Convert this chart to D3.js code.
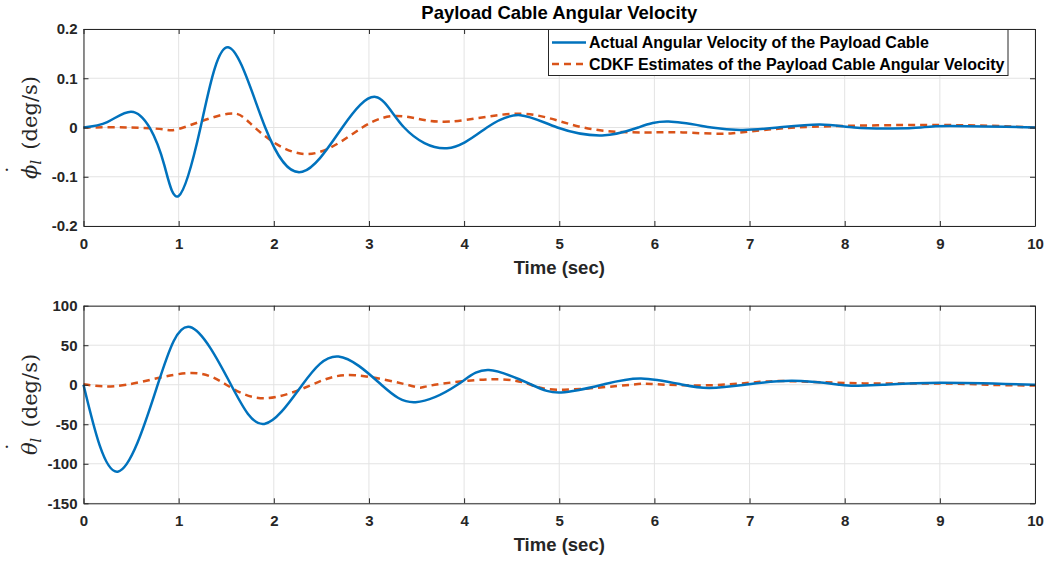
<!DOCTYPE html>
<html>
<head>
<meta charset="utf-8">
<script src="https://cdn.jsdelivr.net/npm/d3@7"></script>
<style>
  body { margin: 0; background: #fff; }
  svg { font-family: "Liberation Sans", Arial, sans-serif; }
  .tick text { font-weight: bold; font-size: 15px; fill: #262626; }
</style>
</head>
<body>
<svg id="chart" width="1050" height="561"></svg>
<script>
// time samples (sec) and values (peaks and zero crossings)
const phiTime   = [0, 0.25, 0.5, 0.7, 0.85, 1.0, 1.23, 1.52, 1.91, 2.3, 2.72, 3.07, 3.37, 3.82, 4.24, 4.59, 4.98, 5.45, 5.83, 6.15, 6.6, 6.93, 7.3, 7.74, 8.1, 8.5, 8.8, 9.1, 10];
const phiActual = [0, 0.011, 0.032, -0.002, -0.077, -0.139, 0, 0.163, 0, -0.09, 0, 0.062, 0, -0.042, 0, 0.025, 0, -0.016, 0, 0.012, 0, -0.005, 0, 0.006, 0, -0.002, 0, 0.003, 0];

const phiEstTime = [0, 0.5, 0.85, 1.05, 1.52, 1.8, 2.35, 2.93, 3.35, 3.85, 4.6, 5.25, 5.9, 6.3, 6.8, 7.5, 9.0, 10];
const phiEst     = [0, 0, -0.004, 0, 0.028, 0, -0.054, 0, 0.023, 0.012, 0.028, 0, -0.01, -0.01, -0.012, 0, 0.005, 0];

const thetaTime   = [0, 0.36, 0.78, 1.12, 1.55, 1.9, 2.3, 2.68, 3.13, 3.49, 3.93, 4.26, 4.71, 5.02, 5.45, 5.86, 6.3, 6.58, 6.95, 7.45, 7.95, 8.12, 8.4, 9.0, 10];
const thetaActual = [0, -110, 0, 73, 0, -49.6, 0, 35.7, 0, -22, 0, 18.5, 0, -9.7, 0, 8, 0, -4, 0, 5, 0, -1.3, 0, 2.5, 0];

const thetaEstTime = [0, 0.45, 1.1, 1.5, 1.9, 2.4, 2.85, 3.45, 3.65, 4.3, 4.7, 5.05, 5.75, 6.0, 6.5, 7.0, 7.4, 8.2, 9.0, 9.5, 10];
const thetaEst     = [0.5, 0, 14.7, 0, -17.2, 0, 12, -1.5, -1, 7, 0, -6.3, 0, 0.8, -0.8, 2.5, 4.6, 1.7, 1.7, 0, -1];

const xTicks = [0, 1, 2, 3, 4, 5, 6, 7, 8, 9, 10];
const phiTicks = [-0.2, -0.1, 0, 0.1, 0.2];
const thetaTicks = [-150, -100, -50, 0, 50, 100];

const legendLabels = ["Actual Angular Velocity of the Payload Cable", "CDKF Estimates of the Payload Cable Angular Velocity"];

const blue = "#0072BD", orange = "#D95319", axisCol = "#262626", gridCol = "#e3e3e3";

const svg = d3.select("#chart");
const left = 83.5, right = 1035;

function makePanel(top, bottom, yDomain, yTicks, yFmt, actualT, actualV, estT, estV, symbol) {
  const x = d3.scaleLinear().domain([0, 10]).range([left, right]);
  const y = d3.scaleLinear().domain(yDomain).range([bottom, top]);
  const g = svg.append("g");

  // grid
  g.selectAll(".gx").data(xTicks).enter().append("line")
    .attr("x1", d => x(d)).attr("x2", d => x(d))
    .attr("y1", top).attr("y2", bottom)
    .attr("stroke", gridCol).attr("stroke-width", 1);
  g.selectAll(".gy").data(yTicks).enter().append("line")
    .attr("x1", left).attr("x2", right)
    .attr("y1", d => y(d)).attr("y2", d => y(d))
    .attr("stroke", gridCol).attr("stroke-width", 1);

  // curves
  const line = (ts, vs) => d3.line()
    .x(i => x(ts[i])).y(i => y(vs[i]))
    .curve(d3.curveNatural)(d3.range(ts.length));

  g.append("path").attr("d", line(estT, estV))
    .attr("fill", "none").attr("stroke", orange).attr("stroke-width", 2.5)
    .attr("stroke-dasharray", "7,5");
  g.append("path").attr("d", line(actualT, actualV))
    .attr("fill", "none").attr("stroke", blue).attr("stroke-width", 2.5);

  // axes (ticks pointing in, box on all sides)
  const xb = g.append("g").attr("transform", `translate(0,${bottom})`)
    .call(d3.axisBottom(x).tickValues(xTicks).tickSizeInner(-5).tickSizeOuter(0).tickPadding(12).tickFormat(d => String(d)));
  const xt = g.append("g").attr("transform", `translate(0,${top})`)
    .call(d3.axisTop(x).tickValues(xTicks).tickSizeInner(-5).tickSizeOuter(0).tickFormat(""));
  const yl = g.append("g").attr("transform", `translate(${left},0)`)
    .call(d3.axisLeft(y).tickValues(yTicks).tickSizeInner(-5).tickSizeOuter(0).tickPadding(6).tickFormat(yFmt));
  const yr = g.append("g").attr("transform", `translate(${right},0)`)
    .call(d3.axisRight(y).tickValues(yTicks).tickSizeInner(-5).tickSizeOuter(0).tickFormat(""));
  [xb, xt, yl, yr].forEach(a => {
    a.select(".domain").attr("stroke", axisCol).attr("stroke-width", 1);
    a.selectAll(".tick line").attr("stroke", axisCol);
  });

  // x label
  g.append("text").attr("x", (left + right) / 2).attr("y", bottom + 48)
    .attr("text-anchor", "middle").attr("font-weight", "bold").attr("font-size", 18.5)
    .attr("fill", axisCol).text("Time (sec)");

  // y label (LaTeX-like)
  const yc = (top + bottom) / 2;
  const lg = g.append("g").attr("transform", `translate(37,${yc}) rotate(-90)`);
  const lab = lg.append("text")
    .attr("text-anchor", "middle")
    .attr("font-family", "'DejaVu Serif', 'Liberation Serif', serif")
    .attr("font-size", 21).attr("fill", axisCol);
  lab.append("tspan").attr("font-style", "italic").text(symbol);
  lab.append("tspan").attr("font-style", "italic").attr("font-size", 14).attr("dy", 4).text("l");
  lab.append("tspan").attr("dy", -4).text("\u2002(deg/s)");
  const n = lab.node();
  const cx = (n.getStartPositionOfChar(0).x + n.getEndPositionOfChar(0).x) / 2 + 2;
  lg.append("text").attr("x", cx).attr("y", -16).attr("text-anchor", "middle")
    .attr("font-family", "'DejaVu Serif', serif").attr("font-size", 21)
    .attr("fill", axisCol).text("\u02D9");

  return { x, y };
}

makePanel(29, 226, [-0.2, 0.2], phiTicks, d => d === 0 ? "0" : d.toFixed(1),
  phiTime, phiActual, phiEstTime, phiEst, "\u03D5");
makePanel(305.7, 503.3, [-150, 100], thetaTicks, d => String(d),
  thetaTime, thetaActual, thetaEstTime, thetaEst, "\u03B8");

// title
svg.append("text").attr("x", (left + right) / 2).attr("y", 19)
  .attr("text-anchor", "middle").attr("font-weight", "bold").attr("font-size", 18.5)
  .attr("fill", "#000").text("Payload Cable Angular Velocity");

// legend
const lg = svg.append("g");
lg.append("rect").attr("x", 548.5).attr("y", 29.5).attr("width", 459.5).attr("height", 46)
  .attr("fill", "#fff").attr("stroke", axisCol).attr("stroke-width", 1);
legendLabels.forEach((name, i) => {
  const yy = 42.5 + i * 21.5;
  lg.append("line").attr("x1", 552).attr("x2", 586).attr("y1", yy).attr("y2", yy)
    .attr("stroke", i === 0 ? blue : orange).attr("stroke-width", 2.5)
    .attr("stroke-dasharray", i === 0 ? null : "7,5");
  lg.append("text").attr("x", 589).attr("y", yy + 5.5)
    .attr("font-weight", "bold").attr("font-size", 16).attr("fill", "#000").text(name);
});
</script>
</body>
</html>
